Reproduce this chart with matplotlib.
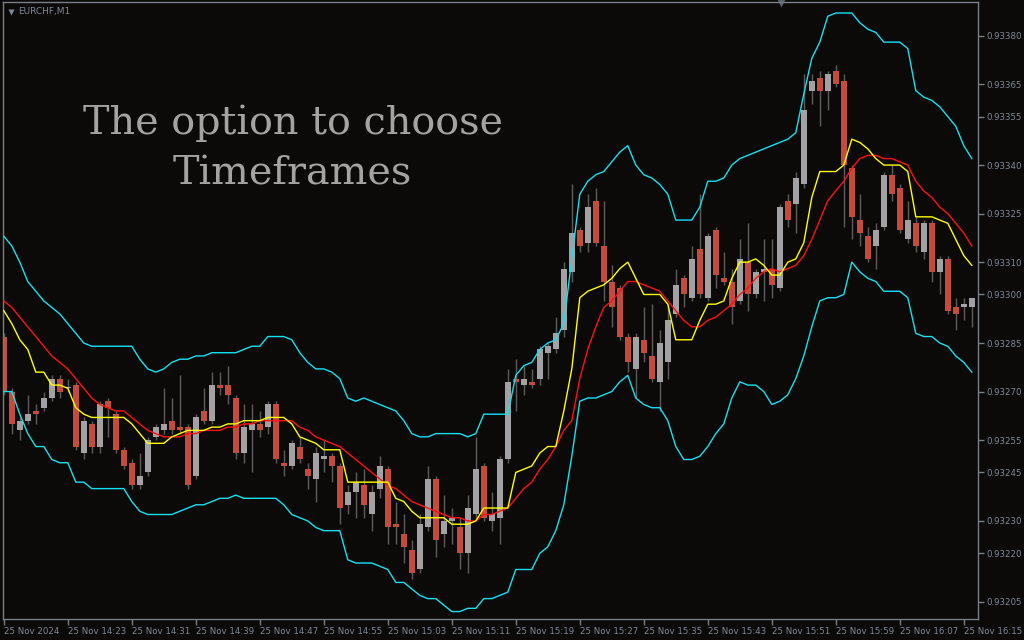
import numpy as np
import matplotlib
matplotlib.use('Agg')
import matplotlib.pyplot as plt

# EURCHF M1 candles, prices in points (1e-5)
opens = [93287,93270,93258,93261,93264,93265,93268,93274,93271,93272,
         93251,93260,93253,93267,93263,93252,93248,93241,93245,93256,
         93258,93261,93259,93259,93244,93264,93261,93272,93272,93268,
         93251,93258,93260,93259,93266,93248,93247,93253,93246,93243,
         93249,93250,93247,93235,93239,93241,93232,93240,93246,93229,
         93226,93221,93215,93228,93243,93226,93230,93228,93220,93232,
         93247,93230,93231,93249,93274,93272,93273,93274,93282,93283,
         93289,93307,93320,93316,93329,93315,93304,93302,93287,93277,
         93286,93281,93273,93279,93294,93305,93299,93314,93299,93320,
         93305,93304,93298,93310,93300,93307,93308,93302,93329,93328,
         93334,93363,93367,93363,93369,93366,93339,93323,93318,93315,
         93321,93337,93333,93317,93322,93313,93322,93307,93311,93296,
         93296,93296]
highs = [93288,93271,93262,93269,93266,93270,93275,93275,93274,93273,
         93262,93261,93267,93268,93264,93253,93249,93251,93256,93260,
         93271,93268,93275,93260,93263,93271,93276,93276,93278,93269,
         93266,93266,93264,93267,93267,93252,93255,93256,93248,93253,
         93255,93251,93248,93241,93245,93246,93241,93250,93247,93236,
         93232,93224,93232,93247,93244,93238,93234,93231,93238,93256,
         93248,93239,93250,93277,93280,93278,93277,93284,93285,93293,
         93310,93334,93321,93331,93333,93329,93309,93303,93288,93288,
         93296,93297,93289,93297,93308,93306,93315,93331,93319,93321,
         93313,93308,93317,93322,93308,93317,93317,93328,93331,93338,
         93368,93368,93369,93369,93371,93368,93340,93331,93321,93322,
         93338,93340,93334,93329,93324,93323,93323,93312,93312,93299,
         93299,93299]
lows = [93269,93257,93255,93260,93260,93264,93267,93268,93270,93252,
        93249,93251,93251,93256,93251,93246,93240,93240,93244,93255,
        93257,93257,93257,93240,93243,93260,93260,93269,93266,93249,
        93248,93245,93256,93257,93248,93244,93246,93248,93240,93236,
        93245,93242,93229,93232,93231,93231,93227,93237,93223,93223,
        93217,93212,93214,93227,93219,93222,93223,93215,93214,93231,
        93230,93227,93223,93248,93264,93269,93271,93272,93274,93282,
        93287,93304,93313,93313,93315,93298,93290,93286,93276,93268,
        93279,93273,93264,93274,93293,93296,93298,93299,93298,93302,
        93303,93291,93297,93295,93299,93298,93299,93301,93321,93319,
        93333,93359,93352,93357,93364,93321,93317,93315,93310,93308,
        93320,93329,93319,93316,93313,93311,93304,93300,93294,93289,
        93292,93290]
closes = [93270,93260,93261,93263,93263,93268,93274,93270,93271,93253,
          93261,93253,93266,93265,93252,93247,93241,93244,93255,93259,
          93260,93258,93258,93241,93262,93261,93272,93271,93269,93251,
          93259,93260,93258,93266,93249,93247,93254,93249,93244,93251,
          93250,93247,93234,93239,93242,93235,93239,93247,93228,93228,
          93222,93214,93229,93243,93224,93230,93231,93220,93234,93246,
          93231,93232,93249,93273,93273,93274,93272,93283,93284,93288,
          93308,93319,93315,93327,93316,93304,93296,93287,93279,93287,
          93282,93274,93285,93292,93303,93300,93311,93300,93318,93306,
          93304,93296,93311,93300,93307,93308,93303,93327,93323,93336,
          93357,93366,93363,93368,93365,93340,93324,93319,93311,93320,
          93337,93331,93320,93323,93315,93322,93307,93311,93295,93294,
          93297,93299]

# indicator lines
band_upper = [93318,93315,93310,93304,93301,93298,93296,93294,93291,93288,
              93285,93284,93284,93284,93284,93284,93284,93280,93277,93276,
              93277,93279,93280,93280,93281,93281,93282,93282,93282,93282,
              93283,93284,93284,93287,93287,93287,93286,93282,93279,93277,
              93277,93276,93274,93268,93267,93268,93267,93266,93265,93264,
              93261,93257,93256,93256,93257,93257,93257,93257,93256,93257,
              93263,93263,93263,93263,93275,93278,93279,93283,93285,93286,
              93291,93311,93331,93335,93337,93338,93341,93344,93346,93340,
              93337,93336,93334,93331,93323,93323,93323,93327,93335,93335,
              93336,93340,93342,93343,93344,93345,93346,93347,93348,93350,
              93362,93373,93378,93386,93387,93387,93387,93384,93382,93381,
              93378,93378,93378,93376,93363,93361,93360,93358,93355,93352,
              93346,93342]
band_lower = [93270,93270,93263,93257,93253,93253,93249,93248,93248,93242,
              93242,93240,93240,93240,93240,93240,93236,93233,93232,93232,
              93232,93232,93233,93234,93235,93235,93236,93237,93237,93238,
              93237,93237,93237,93237,93237,93235,93232,93231,93230,93228,
              93227,93227,93227,93218,93217,93217,93217,93216,93215,93211,
              93211,93209,93207,93206,93206,93204,93202,93202,93203,93203,
              93206,93206,93207,93208,93215,93215,93215,93220,93222,93227,
              93235,93250,93267,93268,93268,93269,93270,93273,93275,93268,
              93266,93265,93265,93261,93253,93249,93249,93250,93253,93257,
              93260,93268,93273,93272,93272,93270,93266,93267,93269,93274,
              93281,93290,93298,93299,93299,93300,93310,93307,93305,93304,
              93301,93301,93301,93299,93288,93287,93287,93285,93284,93281,
              93279,93276]
ma_yellow = [93295,93291,93286,93283,93276,93276,93272,93272,93271,93265,
             93263,93262,93262,93262,93262,93262,93260,93257,93254,93254,
             93254,93256,93257,93258,93258,93258,93259,93259,93260,93260,
             93261,93261,93261,93262,93262,93262,93260,93256,93255,93254,
             93252,93252,93252,93242,93242,93242,93242,93242,93242,93237,
             93236,93233,93231,93231,93231,93231,93229,93229,93229,93230,
             93234,93234,93234,93234,93245,93246,93247,93251,93253,93253,
             93264,93277,93299,93301,93302,93303,93305,93308,93310,93305,
             93300,93300,93300,93297,93286,93286,93286,93292,93297,93297,
             93298,93305,93310,93310,93311,93309,93306,93306,93310,93311,
             93316,93330,93338,93338,93338,93340,93348,93347,93345,93342,
             93340,93340,93340,93338,93324,93324,93324,93323,93322,93317,
             93312,93309]
ma_red = [93298,93296,93293,93290,93287,93284,93281,93279,93277,93274,
          93271,93268,93266,93265,93264,93264,93262,93260,93258,93257,
          93256,93256,93256,93257,93257,93258,93258,93258,93259,93259,
          93260,93260,93261,93261,93261,93261,93261,93259,93258,93256,
          93255,93254,93253,93251,93249,93247,93245,93243,93241,93240,
          93238,93236,93235,93234,93233,93232,93231,93231,93230,93230,
          93232,93232,93233,93234,93237,93240,93242,93246,93249,93253,
          93258,93261,93274,93283,93290,93296,93298,93301,93304,93304,
          93303,93302,93301,93298,93295,93292,93290,93290,93292,93293,
          93295,93297,93300,93302,93305,93307,93308,93307,93308,93309,
          93312,93317,93323,93329,93332,93335,93339,93342,93343,93343,
          93342,93342,93341,93340,93335,93332,93330,93327,93325,93322,
          93319,93315]

time_labels = ['25 Nov 2024', '25 Nov 14:23', '25 Nov 14:31', '25 Nov 14:39',
               '25 Nov 14:47', '25 Nov 14:55', '25 Nov 15:03', '25 Nov 15:11',
               '25 Nov 15:19', '25 Nov 15:27', '25 Nov 15:35', '25 Nov 15:43',
               '25 Nov 15:51', '25 Nov 15:59', '25 Nov 16:07', '25 Nov 16:15']
price_ticks = [0.93380, 0.93365, 0.93355, 0.93340, 0.93325, 0.93310, 0.93300,
               0.93285, 0.93270, 0.93255, 0.93245, 0.93230, 0.93220, 0.93205]

o = np.array(opens) / 1e5
h = np.array(highs) / 1e5
l = np.array(lows) / 1e5
c = np.array(closes) / 1e5
x = np.arange(len(o))

bg = '#0c0a08'
fg = '#7f8898'
frame = '#7a7e86'

fig = plt.figure(figsize=(10.24, 6.4), dpi=100, facecolor=bg)
ax = fig.add_axes([3/1024, 21/640, 975/1024, 617/640], facecolor=bg)

up = c >= o
body_col = np.where(up, '#a2a2a4', '#c24c3e')
ax.vlines(x, l, h, color='#5c5c5c', lw=1, zorder=1)
ax.bar(x, np.maximum(np.abs(c - o), 0.0000035), bottom=np.minimum(o, c),
       width=0.82, color=body_col, lw=0, zorder=2)

ax.plot(x, np.array(band_upper) / 1e5, color='#12e2f2', lw=1, zorder=3)
ax.plot(x, np.array(band_lower) / 1e5, color='#12e2f2', lw=1, zorder=3)
ax.plot(x, np.array(ma_red) / 1e5, color='#ff1010', lw=1, zorder=3)
ax.plot(x, np.array(ma_yellow) / 1e5, color='#ffff00', lw=1, zorder=4)

ax.set_xlim(-0.1, 121.775)
ax.set_ylim(0.931997, 0.933904)

ax.set_xticks(np.arange(0, 8 * len(time_labels), 8))
ax.set_xticklabels(time_labels, ha='left')
ax.set_yticks(price_ticks)
ax.set_yticklabels(['%.5f' % p for p in price_ticks])
ax.yaxis.tick_right()
ax.tick_params(axis='both', colors=frame, labelcolor=fg, labelsize=6.2, length=4, width=1)
ax.tick_params(axis='x', pad=2)
ax.tick_params(axis='y', pad=2)
for s in ax.spines.values():
    s.set_color(frame)
    s.set_linewidth(1)

ax.text(0.0155, 0.984, 'EURCHF,M1', transform=ax.transAxes, color=fg, fontsize=6.5,
        va='center', ha='left')
ax.plot([0.0085], [0.984], marker='v', ms=4, color=fg, mec='none', transform=ax.transAxes)
ax.plot([0.798], [0.998], marker='v', ms=6, color='#5a6070', mec='none', transform=ax.transAxes,
        clip_on=False)

ax.text(0.297, 0.762, 'The option to choose\nTimeframes', transform=ax.transAxes,
        color='#a3a3a3', fontsize=28.6, family='DejaVu Serif', ha='center', va='center',
        linespacing=1.46)

fig.savefig('out.png', dpi=100, facecolor=bg)
